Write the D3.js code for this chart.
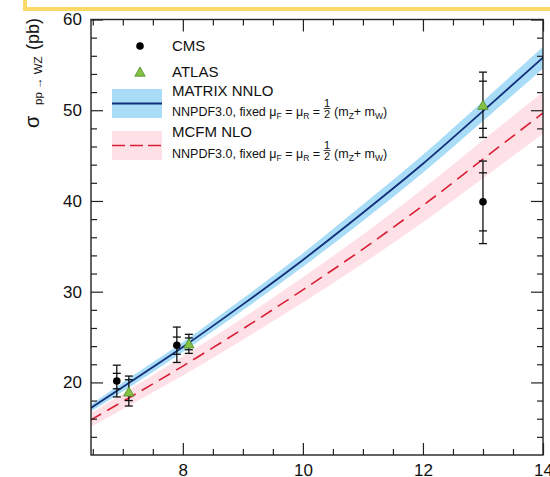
<!DOCTYPE html>
<html>
<head>
<meta charset="utf-8">
<script src="https://cdn.jsdelivr.net/npm/d3@7"></script>
<style>
  body { margin: 0; background: #fff; }
  svg { display: block; font-family: "Liberation Sans", Arial, sans-serif; }
</style>
</head>
<body>
<div id="chart"></div>
<script>
// theory curves (sqrt(s) in TeV, sigma in pb)
var energy  = [6.45, 7, 8, 9, 10, 11, 12, 13, 14];
var nnloMid = [17.1, 19.5, 23.9, 28.6, 33.5, 38.7, 44.1, 49.9, 55.8];
var nnloLo  = [16.7, 19.0, 23.35, 27.95, 32.75, 37.8, 43.1, 48.8, 54.6];
var nnloHi  = [17.5, 20.0, 24.45, 29.25, 34.25, 39.6, 45.1, 51.0, 57.0];
var nloMid  = [15.8, 17.9, 21.8, 25.9, 30.2, 34.7, 39.5, 44.6, 49.7];
var nloLo   = [15.05, 17.05, 20.75, 24.7, 28.8, 33.1, 37.65, 42.5, 47.4];
var nloHi   = [16.55, 18.75, 22.85, 27.1, 31.6, 36.3, 41.35, 46.7, 52.0];

// measurements
var cmsE      = [6.9, 7.9, 13.0];
var cmsVal    = [20.15, 24.1, 39.9];
var cmsStatLo = [19.3, 23.1, 36.7];
var cmsStatHi = [21.0, 25.0, 43.1];
var cmsTotLo  = [18.4, 22.2, 35.3];
var cmsTotHi  = [21.9, 26.1, 44.4];

var atlasE      = [7.1, 8.1, 13.0];
var atlasVal    = [19.0, 24.3, 50.6];
var atlasStatLo = [18.0, 23.6, 48.0];
var atlasStatHi = [20.3, 24.9, 53.2];
var atlasTotLo  = [17.4, 23.2, 47.0];
var atlasTotHi  = [20.7, 25.3, 54.2];

// ticks
var xMajor = [8, 10, 12, 14];
var xMinor = d3.range(6.5, 14, 0.5).filter(function(v) { return xMajor.indexOf(v) < 0; });
var yMajor = [20, 30, 40, 50, 60];
var yMinor = d3.range(14, 60, 2).filter(function(v) { return yMajor.indexOf(v) < 0; });

var svgWidth = 550, svgHeight = 477;
var plotL = 91, plotR = 543, plotT = 19.5, plotB = 455;

var svg = d3.select("#chart").append("svg")
  .attr("width", svgWidth)
  .attr("height", svgHeight);

svg.append("rect").attr("width", svgWidth).attr("height", svgHeight).attr("fill", "#fff");

// yellow slide frame corner
svg.append("path")
  .attr("d", "M25,0 V9 H552")
  .attr("fill", "none")
  .attr("stroke", "#ffd966")
  .attr("stroke-width", 4);

var x = d3.scaleLinear().domain([6.47, 14]).range([plotL, plotR]);
var y = d3.scaleLinear().domain([12, 60]).range([plotB, plotT]);

svg.append("clipPath").attr("id", "plot")
  .append("rect").attr("x", plotL).attr("y", plotT)
  .attr("width", plotR - plotL).attr("height", plotB - plotT);

var plot = svg.append("g").attr("clip-path", "url(#plot)");

var band = d3.area()
  .x(function(d, i) { return x(energy[i]); })
  .y0(function(d) { return y(d[0]); })
  .y1(function(d) { return y(d[1]); })
  .curve(d3.curveMonotoneX);

var curve = d3.line()
  .x(function(d, i) { return x(energy[i]); })
  .y(function(d) { return y(d); })
  .curve(d3.curveMonotoneX);

plot.append("path")
  .datum(nloLo.map(function(v, i) { return [v, nloHi[i]]; }))
  .attr("d", band)
  .attr("fill", "#fde1e7");

plot.append("path")
  .datum(nnloLo.map(function(v, i) { return [v, nnloHi[i]]; }))
  .attr("d", band)
  .attr("fill", "#a9dcf6");

plot.append("path")
  .datum(nloMid)
  .attr("d", curve)
  .attr("fill", "none")
  .attr("stroke", "#d91e36")
  .attr("stroke-width", 1.6)
  .attr("stroke-dasharray", "13,7");

plot.append("path")
  .datum(nnloMid)
  .attr("d", curve)
  .attr("fill", "none")
  .attr("stroke", "#12307a")
  .attr("stroke-width", 1.8);

// axes: frame with inward ticks on all four sides
function noLabel() { return ""; }
function drawAxis(axis, tx, ty) {
  var g = svg.append("g").attr("transform", "translate(" + tx + "," + ty + ")").call(axis);
  g.select(".domain").remove();
  g.selectAll("line").attr("stroke", "#222").attr("stroke-width", 1.2);
  g.selectAll("text").attr("fill", "#111").attr("font-size", 17)
    .attr("font-family", "Liberation Sans, Arial, sans-serif");
  return g;
}

drawAxis(d3.axisBottom(x).tickValues(xMajor).tickSize(-12).tickPadding(9).tickFormat(d3.format("d")), 0, plotB);
drawAxis(d3.axisBottom(x).tickValues(xMinor).tickSize(-6).tickFormat(noLabel), 0, plotB);
drawAxis(d3.axisTop(x).tickValues(xMajor).tickSize(-12).tickFormat(noLabel), 0, plotT);
drawAxis(d3.axisTop(x).tickValues(xMinor).tickSize(-6).tickFormat(noLabel), 0, plotT);
drawAxis(d3.axisLeft(y).tickValues(yMajor).tickSize(-12).tickPadding(9).tickFormat(d3.format("d")), plotL, 0);
drawAxis(d3.axisLeft(y).tickValues(yMinor).tickSize(-6).tickFormat(noLabel), plotL, 0);
drawAxis(d3.axisRight(y).tickValues(yMajor).tickSize(-12).tickFormat(noLabel), plotR, 0);
drawAxis(d3.axisRight(y).tickValues(yMinor).tickSize(-6).tickFormat(noLabel), plotR, 0);

svg.append("rect")
  .attr("x", plotL).attr("y", plotT)
  .attr("width", plotR - plotL).attr("height", plotB - plotT)
  .attr("fill", "none")
  .attr("stroke", "#222")
  .attr("stroke-width", 1.4);

// error bars (total and statistical caps)
function errorBars(E, lo, hi, sLo, sHi) {
  var g = svg.append("g").attr("stroke", "#111").attr("stroke-width", 1.3);
  E.forEach(function(e, i) {
    var cx = x(e);
    g.append("line").attr("x1", cx).attr("x2", cx).attr("y1", y(lo[i])).attr("y2", y(hi[i]));
    [lo[i], hi[i], sLo[i], sHi[i]].forEach(function(v) {
      g.append("line").attr("x1", cx - 4).attr("x2", cx + 4).attr("y1", y(v)).attr("y2", y(v));
    });
  });
}
errorBars(cmsE, cmsTotLo, cmsTotHi, cmsStatLo, cmsStatHi);
errorBars(atlasE, atlasTotLo, atlasTotHi, atlasStatLo, atlasStatHi);

var triangle = "M0,-6 L5.2,3.2 L-5.2,3.2 Z";

svg.append("g").selectAll("circle")
  .data(cmsE).enter().append("circle")
  .attr("cx", function(d) { return x(d); })
  .attr("cy", function(d, i) { return y(cmsVal[i]); })
  .attr("r", 3.8)
  .attr("fill", "#000");

svg.append("g").selectAll("path")
  .data(atlasE).enter().append("path")
  .attr("d", triangle)
  .attr("transform", function(d, i) { return "translate(" + x(d) + "," + (y(atlasVal[i]) + 1.4) + ")"; })
  .attr("fill", "#84c144")
  .attr("stroke", "#4f8a2a")
  .attr("stroke-width", 0.8);

// legend
var leg = svg.append("g").attr("fill", "#111");
leg.append("circle").attr("cx", 140).attr("cy", 46).attr("r", 3.8).attr("fill", "#000");
leg.append("path").attr("d", triangle).attr("transform", "translate(140,73)")
  .attr("fill", "#84c144").attr("stroke", "#4f8a2a").attr("stroke-width", 0.8);
leg.append("text").attr("x", 172).attr("y", 51).attr("font-size", 15).text("CMS");
leg.append("text").attr("x", 172).attr("y", 77).attr("font-size", 15).text("ATLAS");

leg.append("rect").attr("x", 112).attr("y", 89).attr("width", 50).attr("height", 29).attr("fill", "#a9dcf6");
leg.append("line").attr("x1", 112).attr("x2", 162).attr("y1", 103.5).attr("y2", 103.5)
  .attr("stroke", "#12307a").attr("stroke-width", 1.8);
leg.append("rect").attr("x", 112).attr("y", 131).attr("width", 50).attr("height", 29).attr("fill", "#fde1e7");
leg.append("line").attr("x1", 112).attr("x2", 162).attr("y1", 145.5).attr("y2", 145.5)
  .attr("stroke", "#d91e36").attr("stroke-width", 1.6).attr("stroke-dasharray", "13,5");

leg.append("text").attr("x", 172).attr("y", 96).attr("font-size", 15).text("MATRIX NNLO");
leg.append("text").attr("x", 172).attr("y", 137).attr("font-size", 15).text("MCFM NLO");

function scaleText(baseY) {
  var t1 = leg.append("text").attr("x", 172).attr("y", baseY).attr("font-size", 12.5);
  t1.append("tspan").text("NNPDF3.0, fixed \u03bc");
  t1.append("tspan").attr("font-size", 8.5).attr("dy", 3).text("F");
  t1.append("tspan").attr("dy", -3).text("\u00a0= \u03bc");
  t1.append("tspan").attr("font-size", 8.5).attr("dy", 3).text("R");
  t1.append("tspan").attr("dy", -3).text("\u00a0=");
  var fx = 172 + t1.node().getComputedTextLength() + 7;
  leg.append("text").attr("x", fx).attr("y", baseY - 9.5).attr("font-size", 11)
    .attr("text-anchor", "middle").text("1");
  leg.append("line").attr("x1", fx - 3.5).attr("x2", fx + 3.5)
    .attr("y1", baseY - 7.5).attr("y2", baseY - 7.5).attr("stroke", "#111").attr("stroke-width", 0.8);
  leg.append("text").attr("x", fx).attr("y", baseY + 1.8).attr("font-size", 11)
    .attr("text-anchor", "middle").text("2");
  var t2 = leg.append("text").attr("x", fx + 7).attr("y", baseY).attr("font-size", 12.5);
  t2.append("tspan").text("(m");
  t2.append("tspan").attr("font-size", 8.5).attr("dy", 3).text("Z");
  t2.append("tspan").attr("dy", -3).text("+ m");
  t2.append("tspan").attr("font-size", 8.5).attr("dy", 3).text("W");
  t2.append("tspan").attr("dy", -3).text(")");
}
scaleText(116);
scaleText(158);

// y axis title
svg.append("text").attr("transform", "translate(38.5,128) rotate(-90)")
  .attr("font-size", 20).attr("fill", "#111").text("\u03c3");
svg.append("text").attr("transform", "translate(42,105) rotate(-90)")
  .attr("font-size", 11.5).attr("fill", "#111").text("pp \u2192 WZ");
svg.append("text").attr("transform", "translate(38.5,50) rotate(-90)")
  .attr("font-size", 18).attr("fill", "#111").text("(pb)");
</script>
</body>
</html>
